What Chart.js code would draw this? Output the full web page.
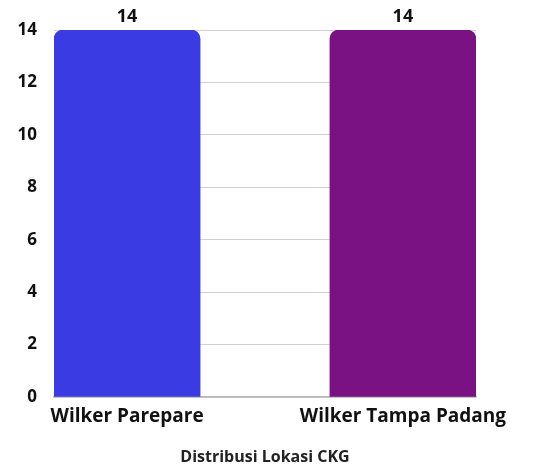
<!DOCTYPE html>
<html>
<head>
<meta charset="utf-8">
<script src="https://cdn.jsdelivr.net/npm/chart.js@4"></script>
<style>
  html, body { margin: 0; padding: 0; background: #fff; }
  #wrap { width: 533px; height: 468px; }
</style>
</head>
<body>
<div id="wrap"><canvas id="lokasiChart"></canvas></div>
<script>
// chart data
const categories = ['Wilker Parepare', 'Wilker Tampa Padang'];
const counts = [14, 14];
const barColors = ['#3a3be3', '#7a1283'];
const yTicks = [0, 2, 4, 6, 8, 10, 12, 14];

const FONT = "'Open Sans', Lato, sans-serif";

// draws the value above each bar
const valueLabels = {
  id: 'valueLabels',
  afterDatasetsDraw(chart) {
    const ctx = chart.ctx;
    const meta = chart.getDatasetMeta(0);
    ctx.save();
    ctx.font = 'bold 18px ' + FONT;
    ctx.fillStyle = '#111';
    ctx.textAlign = 'center';
    ctx.textBaseline = 'middle';
    meta.data.forEach((bar, i) => {
      ctx.fillText(String(counts[i]), bar.x, bar.y - 13);
    });
    ctx.restore();
  }
};

const ctx = document.getElementById('lokasiChart').getContext('2d');
new Chart(ctx, {
  type: 'bar',
  data: {
    datasets: [{
      data: counts.map((v, i) => ({ x: i, y: v })),
      backgroundColor: barColors,
      borderRadius: { topLeft: 9, topRight: 9, bottomLeft: 0, bottomRight: 0 },
      borderSkipped: false,
      barThickness: 146
    }]
  },
  options: {
    responsive: true,
    maintainAspectRatio: false,
    animation: false,
    layout: { padding: { left: 0, right: 57, top: 30, bottom: 1 } },
    plugins: {
      legend: { display: false },
      tooltip: { enabled: false }
    },
    scales: {
      x: {
        type: 'linear',
        offset: false,
        min: -0.265,
        max: 1.265,
        afterFit: (scale) => { scale.height = 70; },
        grid: { display: false },
        border: { display: true, color: '#b5b5b5', width: 1.5 },
        ticks: {
          stepSize: 1,
          includeBounds: false,
          autoSkip: false,
          maxRotation: 0,
          padding: 0,
          color: '#111',
          font: { family: FONT, size: 19, weight: 'bold' },
          callback: (v) => categories[v] !== undefined ? categories[v] : ''
        },
        title: {
          display: true,
          text: 'Distribusi Lokasi CKG',
          color: '#222',
          padding: { top: 16, bottom: 0 },
          font: { family: FONT, size: 16, weight: 'bold' }
        }
      },
      y: {
        min: 0,
        max: 14,
        afterFit: (scale) => { scale.width = 54; },
        afterBuildTicks: (scale) => { scale.ticks = yTicks.map((v) => ({ value: v })); },
        grid: { color: '#d0d0d0', drawTicks: false },
        border: { display: false },
        ticks: {
          padding: 17,
          color: '#111',
          font: { family: FONT, size: 17, weight: 'bold' }
        }
      }
    }
  },
  plugins: [valueLabels]
});
</script>
</body>
</html>
